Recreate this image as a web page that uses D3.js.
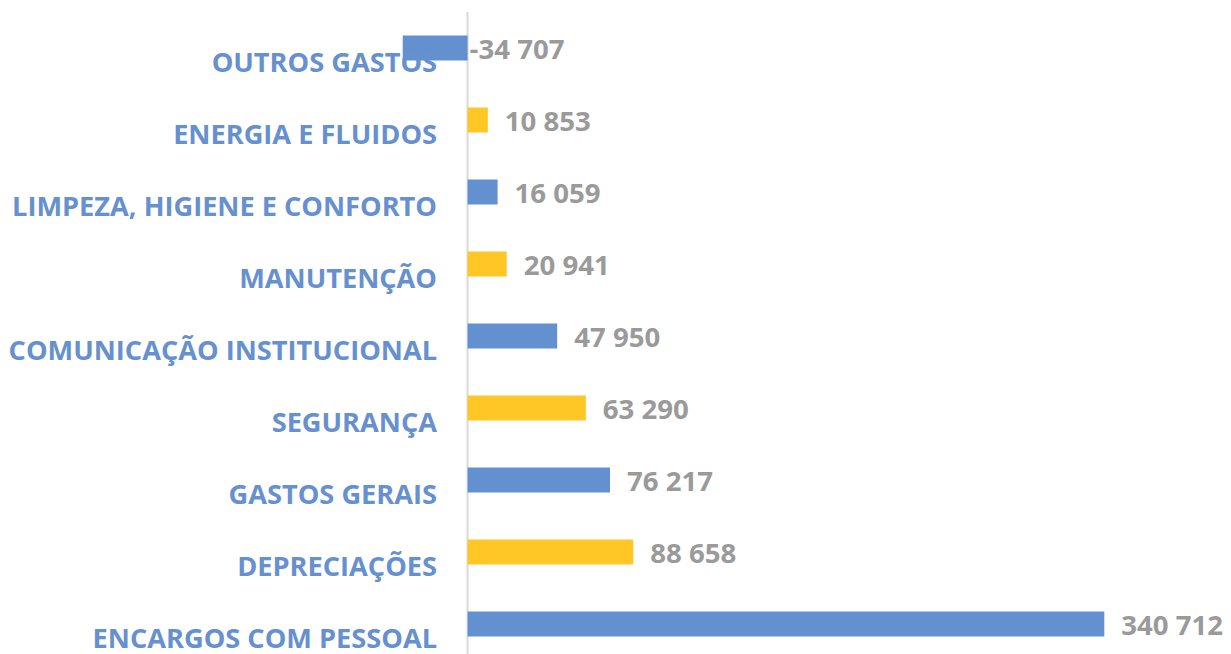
<!DOCTYPE html>
<html><head><meta charset="utf-8">
<script src="https://cdn.jsdelivr.net/npm/d3@7"></script>
<style>body{margin:0;background:#fff;}svg{display:block;}</style>
</head><body>
<svg id="c" width="1231" height="654"></svg>
<script>
const categories = ["OUTROS GASTOS","ENERGIA E FLUIDOS","LIMPEZA, HIGIENE E CONFORTO","MANUTENÇÃO","COMUNICAÇÃO INSTITUCIONAL","SEGURANÇA","GASTOS GERAIS","DEPRECIAÇÕES","ENCARGOS COM PESSOAL"];
const values = [-34707, 10853, 16059, 20941, 47950, 63290, 76217, 88658, 340712];
const barColors = ["#6390CE","#FFC726"];

const svg = d3.select("#c");
const font = "'Open Sans', 'Noto Sans', sans-serif";
const loc = d3.formatLocale({decimal:",", thousands:" ", grouping:[3], currency:["",""], minus:"-"});
const fmt = loc.format(",d");

const x = d3.scaleLinear().domain([d3.min(values), d3.max(values)]).range([402.7, 1104.3]);
const y = d3.scaleBand().domain(categories).range([12, 660]).padding(0);
const barH = 25;

svg.append("line").attr("x1", x(0)).attr("x2", x(0)).attr("y1", 12).attr("y2", 654)
  .attr("stroke", "#d9d9d9").attr("stroke-width", 2);

const data = categories.map((c,i)=>({c, v: values[i], i}));

svg.selectAll("rect.bar").data(data).join("rect").attr("class","bar")
  .attr("x", d=>x(Math.min(0,d.v))).attr("width", d=>Math.abs(x(d.v)-x(0)))
  .attr("y", d=>y(d.c)+(y.bandwidth()-barH)/2).attr("height", barH)
  .attr("fill", d=>barColors[d.i%2]);

svg.selectAll("text.cat").data(data).join("text").attr("class","cat")
  .attr("x", 437).attr("y", d=>y(d.c)+y.bandwidth()/2+23.5)
  .attr("text-anchor","end").attr("fill","#6690CF")
  .style("font-family", font).style("font-weight","700").style("font-size","27.2px")
  .text(d=>d.c);

svg.selectAll("text.val").data(data).join("text").attr("class","val")
  .attr("x", d=> d.v<0 ? x(0)+2 : x(d.v)+17).attr("y", d=>y(d.c)+y.bandwidth()/2+11)
  .attr("fill","#9a9a9a")
  .style("font-family", font).style("font-weight","700").style("font-size","27.6px")
  .text(d=>fmt(d.v));
</script>
</body></html>
